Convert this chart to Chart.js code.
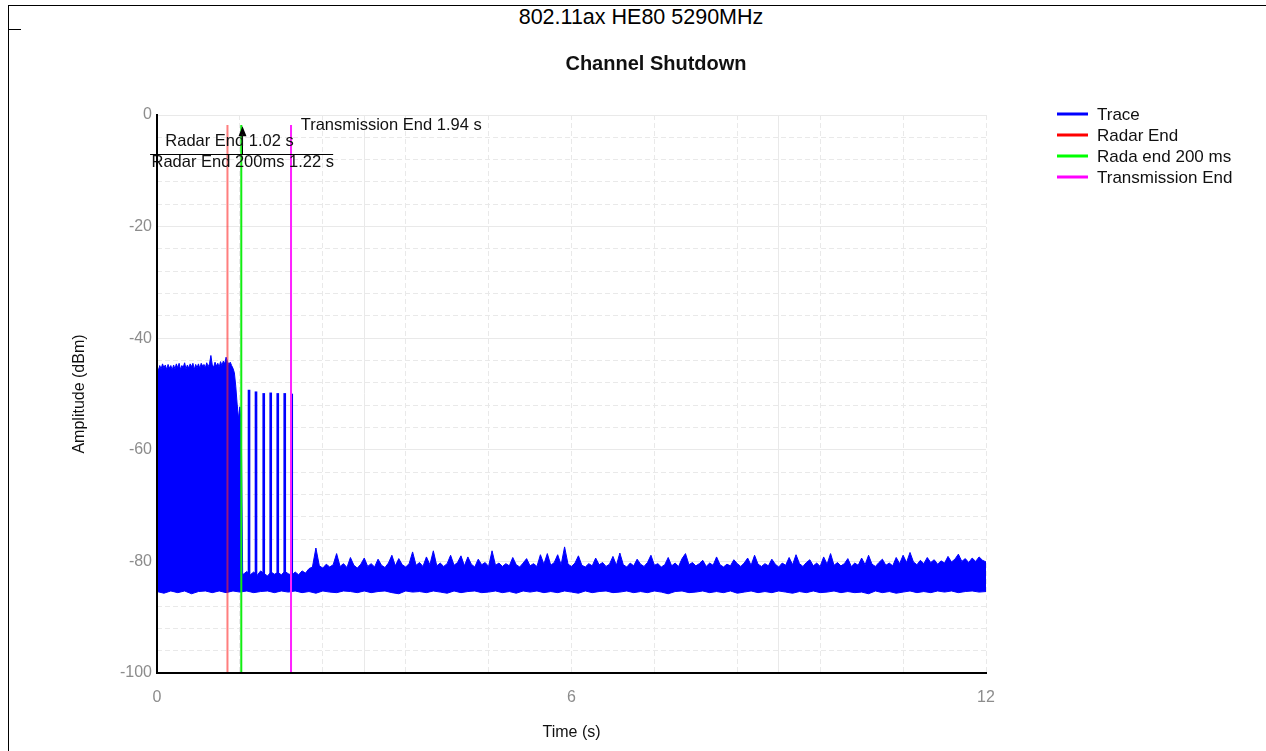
<!DOCTYPE html>
<html>
<head>
<meta charset="utf-8">
<title>Channel Shutdown</title>
<script src="https://cdn.jsdelivr.net/npm/chart.js@4.4.1/dist/chart.umd.min.js"></script>
<style>
  html, body { margin: 0; padding: 0; background: #fff; }
  body { width: 1266px; height: 751px; position: relative; overflow: hidden; font-family: "Liberation Sans", Arial, sans-serif; }
  #frame { position: absolute; left: 8px; top: 5px; width: 1300px; height: 800px; border-top: 1px solid #000; border-left: 1px solid #000; }
  #tick { position: absolute; left: 8px; top: 29px; width: 13px; height: 1px; background: #000; }
  #heading { position: absolute; left: 16px; width: 1250px; top: 5px; text-align: center; font-size: 21.5px; line-height: 25px; color: #000; }
  #chart { position: absolute; left: 50px; top: 0; }
</style>
</head>
<body>
<div id="frame"></div>
<div id="tick"></div>
<div id="heading">802.11ax HE80 5290MHz</div>
<canvas id="chart" width="1212" height="751"></canvas>
<script>
// trace top edge while the channel is busy, 0 .. 1.24 s every 0.02 s (dBm)
const blockStep = 0.02;
const blockHigh = [
    -45.0, -45.8, -44.9, -45.5, -44.6, -45.3, -44.8, -45.6, -44.7, -45.4,
    -44.9, -45.7, -44.8, -45.5, -44.6, -45.3, -44.5, -45.6, -44.9, -45.2,
    -44.4, -45.5, -44.8, -45.4, -44.6, -45.1, -44.5, -45.6, -44.7, -45.3,
    -44.6, -45.4, -44.5, -45.0, -44.7, -45.3, -44.4, -45.1, -44.6, -43.1,
    -44.8, -45.2, -44.3, -45.0, -44.5, -45.2, -44.2, -44.9, -44.1, -44.6,
    -43.4, -44.2, -44.7, -44.3, -44.9, -45.4, -46.2, -48.6, -51.8, -54.4,
    -52.3, -55.9, -82.1,
];

// trace top edge after shutdown, 1.25 .. 12 s every 0.05 s (dBm)
const idleStart = 1.25;
const idleStep = 0.05;
const idleHigh = [
    -82.3, -81.8, -82.4, -81.9, -82.5, -81.7, -82.2, -82.6, -81.9, -82.3, -82.0, -82.4, -81.8, -82.2, -82.5,
    -81.9, -82.4, -81.7, -82.1, -81.3, -81.0, -77.6, -80.8, -81.2, -80.5, -81.0, -80.6, -78.6, -80.9, -80.4, -81.1, -79.3, -80.7, -81.2, -80.5,
    -79.4, -80.9, -80.4, -81.0, -79.6, -80.7, -81.1, -80.3, -78.9, -80.8, -79.5, -80.6, -81.0, -80.4, -78.3, -80.7, -80.2, -80.9, -79.2, -80.6,
    -78.1, -80.8, -80.3, -80.9, -80.4, -78.9, -80.7, -80.2, -79.0, -80.8, -79.2, -80.5, -81.0, -79.6, -80.6, -80.2, -80.9, -78.1, -80.7, -80.3,
    -80.9, -80.4, -80.8, -79.3, -80.6, -81.0, -80.3, -79.5, -80.8, -80.4, -80.9, -78.8, -80.5, -78.6, -80.7, -80.2, -78.8, -80.6, -77.4, -80.5,
    -80.9, -80.3, -79.0, -80.7, -81.0, -80.4, -80.8, -79.4, -80.6, -80.2, -80.9, -80.5, -79.1, -80.7, -78.5, -80.6, -81.0, -80.3, -80.8, -79.6,
    -80.5, -80.9, -80.2, -78.9, -80.7, -80.4, -81.0, -80.6, -79.3, -80.8, -80.3, -80.9, -79.5, -78.6, -80.6, -80.2, -80.8, -80.4, -79.8, -80.9,
    -80.3, -80.7, -79.2, -80.6, -81.0, -80.5, -80.8, -79.7, -80.4, -80.9, -80.3, -79.4, -80.7, -78.9, -80.5, -80.9, -80.4, -80.8, -79.6, -80.5,
    -81.0, -80.3, -80.7, -79.3, -80.6, -78.8, -80.4, -80.9, -80.2, -79.7, -80.8, -80.3, -80.9, -79.2, -80.5, -78.6, -80.7, -80.2, -80.8, -80.4,
    -79.5, -80.9, -80.3, -80.7, -79.4, -80.6, -78.9, -80.5, -80.9, -80.2, -79.6, -80.7, -80.3, -80.8, -79.3, -80.4, -78.9, -80.2, -78.4, -80.1,
    -80.6, -79.8, -80.4, -79.3, -80.2, -79.7, -80.5, -79.9, -80.3, -79.1, -80.1, -79.6, -78.7, -80.0, -79.5, -80.2, -79.4, -80.0, -79.2, -79.8,
    -80.1,
];

// trace bottom edge, 0 .. 12 s every 0.1 s (dBm)
const lowStep = 0.1;
const traceLow = [
    -85.4, -85.7, -85.3, -85.6, -85.3, -85.8, -85.4, -85.3, -85.6, -85.3,
    -85.6, -85.3, -85.5, -85.3, -85.6, -85.4, -85.3, -85.6, -85.3, -85.5,
    -85.3, -85.6, -85.4, -85.7, -85.3, -85.5, -85.6, -85.3, -85.4, -85.6,
    -85.3, -85.6, -85.4, -85.3, -85.6, -85.8, -85.3, -85.5, -85.4, -85.6,
    -85.3, -85.5, -85.7, -85.3, -85.6, -85.4, -85.3, -85.6, -85.5, -85.3,
    -85.6, -85.4, -85.7, -85.3, -85.5, -85.3, -85.6, -85.4, -85.6, -85.3,
    -85.5, -85.7, -85.3, -85.6, -85.4, -85.3, -85.6, -85.5, -85.3, -85.6,
    -85.4, -85.6, -85.3, -85.5, -85.8, -85.4, -85.3, -85.6, -85.5, -85.3,
    -85.6, -85.4, -85.6, -85.3, -85.7, -85.5, -85.3, -85.6, -85.4, -85.6,
    -85.3, -85.5, -85.7, -85.4, -85.6, -85.3, -85.6, -85.5, -85.3, -85.6,
    -85.4, -85.6, -85.5, -85.8, -85.3, -85.6, -85.4, -85.7, -85.5, -85.3,
    -85.6, -85.4, -85.6, -85.3, -85.5, -85.3, -85.6, -85.4, -85.3, -85.5,
    -85.4,
];

// short bursts still sent between radar end and transmission end
const burstTimes = [1.332, 1.433, 1.545, 1.646, 1.748, 1.849, 1.95];
const burstTops = [-49.3, -49.6, -49.9, -49.8, -49.9, -49.9, -50.0];
const burstBase = -82.4;

// marker lines
const markerNames = ["Radar End", "Rada end 200 ms", "Transmission End"];
const markerTimes = [1.02, 1.22, 1.94];
const markerTop = -1.8;
const markerColors = ["rgba(255, 40, 40, 0.6)", "#11ee11", "#ff22ff"];
const markerLegendColors = ["#ff0000", "#00ff00", "#ff00ff"];

// cursor cross in the top left corner
const cursorTime = 1.23;
const cursorLevel = -7;

const timeMin = 0;
const timeMax = 12;
const levelMin = -100;
const levelMax = 0;

const stamp = (t) => Math.round(t * 1000) / 1000;

const highPoints = blockHigh
    .map((v, i) => ({ x: stamp(i * blockStep), y: v }))
    .concat(idleHigh.map((v, i) => ({ x: stamp(idleStart + i * idleStep), y: v })));
const lowPoints = traceLow.map((v, i) => ({ x: stamp(i * lowStep), y: v }));
const burstPoints = burstTimes.map((t, i) => ({ x: t, y: [burstBase, burstTops[i]] }));

const markerSets = markerTimes.map((t, i) => ({
    label: markerNames[i],
    inLegend: true,
    legendColor: markerLegendColors[i],
    data: [{ x: t, y: markerTop }, { x: t, y: levelMin }],
    borderColor: markerColors[i],
    borderWidth: 2,
    pointRadius: 0,
    fill: false,
    order: 0,
}));

const gridColor = "#e9e9e9";

// legend docked on the right, as in the original
const sideLegend = {
    id: "sideLegend",
    afterDraw(chart) {
        const { ctx, chartArea } = chart;
        const left = chartArea.right + 71;
        ctx.save();
        ctx.font = "17px 'Liberation Sans'";
        ctx.textBaseline = "middle";
        chart.data.datasets
            .filter((d) => d.inLegend)
            .forEach((d, i) => {
                const rowY = 114 + i * 21;
                ctx.fillStyle = d.legendColor;
                ctx.fillRect(left, rowY - 1.5, 31, 3);
                ctx.fillStyle = "#111";
                ctx.fillText(d.label, left + 40, rowY + 1);
            });
        ctx.restore();
    },
};

// cursor and marker captions
const markerNotes = {
    id: "markerNotes",
    afterDatasetsDraw(chart) {
        const { ctx } = chart;
        const px = (t) => chart.scales.x.getPixelForValue(t);
        const py = (v) => chart.scales.y.getPixelForValue(v);
        ctx.save();
        ctx.strokeStyle = "#000";
        ctx.fillStyle = "#000";
        ctx.lineWidth = 1;
        const cy = Math.round(py(cursorLevel)) + 0.5;
        const cx = Math.round(px(cursorTime)) + 0.5;
        const tip = py(-2);
        ctx.beginPath();
        ctx.moveTo(px(-0.1), cy);
        ctx.lineTo(px(2.55), cy);
        ctx.moveTo(cx, cy);
        ctx.lineTo(cx, tip + 6);
        ctx.stroke();
        ctx.beginPath();
        ctx.moveTo(cx, tip);
        ctx.lineTo(cx - 4, tip + 10);
        ctx.lineTo(cx + 4, tip + 10);
        ctx.closePath();
        ctx.fill();

        ctx.font = "16.5px 'Liberation Sans'";
        ctx.fillStyle = "#111";
        ctx.textBaseline = "middle";
        ctx.fillText(`Radar End ${markerTimes[0].toFixed(2)} s`, px(0.12), py(-4.7));
        ctx.fillText(`Radar End 200ms ${markerTimes[1].toFixed(2)} s`, px(-0.08), py(-8.5));
        ctx.fillText(`Transmission End ${markerTimes[2].toFixed(2)} s`, px(2.08), py(-1.9));
        ctx.restore();
    },
};

const ctx = document.getElementById("chart").getContext("2d");

new Chart(ctx, {
    type: "line",
    data: {
        datasets: [
            {
                label: "Trace",
                inLegend: true,
                legendColor: "#0000ff",
                data: highPoints,
                borderColor: "#0000ff",
                backgroundColor: "#0000ff",
                borderWidth: 1,
                pointRadius: 0,
                fill: "+1",
                order: 5,
            },
            {
                label: "Trace low",
                data: lowPoints,
                borderColor: "#0000ff",
                borderWidth: 1,
                pointRadius: 0,
                fill: false,
                order: 6,
            },
            {
                type: "bar",
                label: "Trace bursts",
                data: burstPoints,
                backgroundColor: "#0000ff",
                barThickness: 2,
                order: 4,
            },
            ...markerSets,
        ],
    },
    options: {
        responsive: false,
        animation: false,
        devicePixelRatio: 1,
        layout: { padding: 0 },
        elements: { line: { tension: 0 } },
        plugins: {
            legend: { display: false },
            tooltip: { enabled: false },
            title: {
                display: true,
                text: "Channel Shutdown",
                color: "#111",
                font: { size: 20, weight: "bold" },
                padding: { top: 52, bottom: 0 },
            },
        },
        scales: {
            x: {
                type: "linear",
                position: "bottom",
                min: timeMin,
                max: timeMax,
                offset: false,
                afterFit: (scale) => { scale.height = 78; },
                ticks: { stepSize: 6, color: "#8c8c8c", font: { size: 16 }, padding: 15, maxRotation: 0 },
                grid: { color: gridColor, drawTicks: false },
                border: { color: "#000", width: 2, z: 1 },
                title: {
                    display: true,
                    text: "Time (s)",
                    color: "#111",
                    font: { size: 16 },
                    padding: { top: 0, bottom: 8.4 },
                },
            },
            y: {
                type: "linear",
                position: "left",
                min: levelMin,
                max: levelMax,
                afterFit: (scale) => { scale.width = 107; },
                ticks: { stepSize: 20, color: "#8c8c8c", font: { size: 16 }, padding: 5 },
                grid: { color: gridColor, drawTicks: false },
                border: { color: "#000", width: 2, z: 1 },
                title: {
                    display: true,
                    text: "Amplitude (dBm)",
                    color: "#111",
                    font: { size: 16 },
                    padding: { top: 20.4, bottom: 0 },
                },
            },
            xMinor: {
                type: "linear",
                position: "top",
                min: timeMin,
                max: timeMax,
                afterFit: (scale) => { scale.height = 39; },
                ticks: { stepSize: 1.2, display: false },
                grid: { color: gridColor, drawTicks: false },
                border: { display: false, dash: [5, 3] },
            },
            yMinor: {
                type: "linear",
                position: "right",
                min: levelMin,
                max: levelMax,
                afterFit: (scale) => { scale.width = 276; },
                ticks: { stepSize: 4, display: false },
                grid: { color: gridColor, drawTicks: false },
                border: { display: false, dash: [5, 3] },
            },
        },
    },
    plugins: [sideLegend, markerNotes],
});
</script>
</body>
</html>
